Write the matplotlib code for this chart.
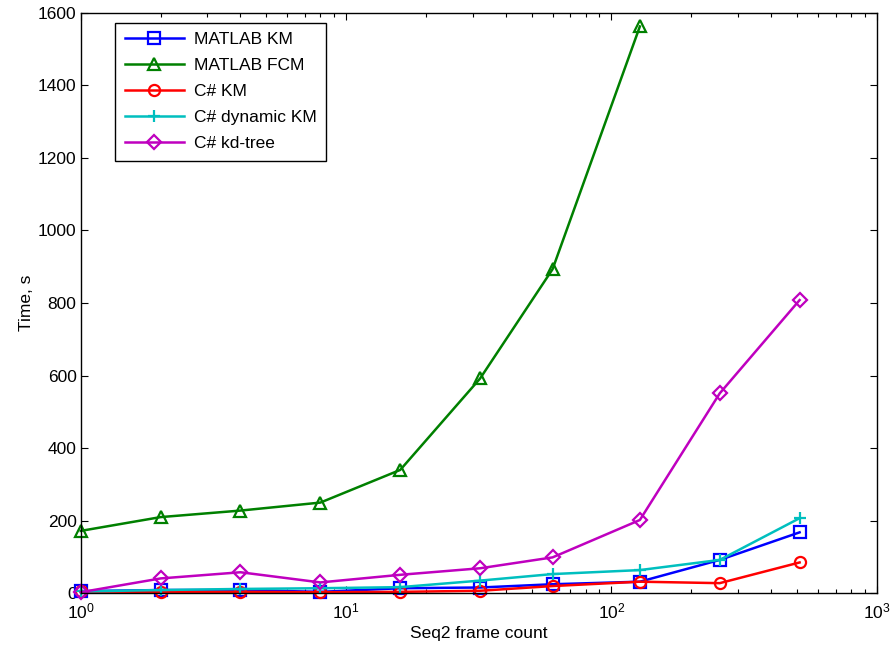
import numpy as np
import matplotlib
matplotlib.use("Agg")
import matplotlib.pyplot as plt
from matplotlib.ticker import LogLocator, NullFormatter

plt.rcParams['font.family'] = ['Liberation Sans', 'DejaVu Sans']
plt.rcParams['mathtext.default'] = 'regular'
plt.rcParams['font.size'] = 12.5

# frame counts (x) and timings in seconds
frames = [1, 2, 4, 8, 16, 32, 60, 128, 256, 512]
frames_fcm = [1, 2, 4, 8, 16, 32, 60, 128]
matlab_km = [6, 9, 9, 4, 14, 16, 25, 32, 92, 168]
matlab_fcm = [172, 210, 228, 250, 340, 592, 893, 1562]
cs_km = [5, 4, 4, 3, 4, 7, 20, 32, 28, 85]
cs_dyn_km = [5, 9, 12, 14, 17, 35, 53, 64, 92, 207]
cs_kdtree = [3, 41, 58, 30, 51, 69, 99, 202, 551, 808]

fig = plt.figure(figsize=(8.94, 6.54), dpi=100)
ax = fig.add_axes([0.0903, 0.0928, 0.8904, 0.8878])

style = dict(linewidth=1.8, markersize=8, markeredgewidth=1.6,
             markerfacecolor='none', clip_on=False)
ax.plot(frames, matlab_km, '-s', color=(0, 0, 1), label='MATLAB KM', **style)
ax.plot(frames_fcm, matlab_fcm, '-^', color=(0, 0.5, 0), label='MATLAB FCM', **style)
ax.plot(frames, cs_km, '-o', color=(1, 0, 0), label='C# KM', **style)
ax.plot(frames, cs_dyn_km, '-+', color=(0, 0.75, 0.75), label='C# dynamic KM',
        **{**style, 'markersize': 9})
ax.plot(frames, cs_kdtree, '-D', color=(0.75, 0, 0.75), label='C# kd-tree',
        **{**style, 'markersize': 7})

ax.set_xscale('log')
ax.set_xlim(1, 1000)
ax.set_ylim(0, 1600)
ax.set_yticks(np.arange(0, 1601, 200))
ax.xaxis.set_minor_locator(LogLocator(base=10, subs=np.arange(2, 10)))
ax.xaxis.set_minor_formatter(NullFormatter())

ax.tick_params(which='both', direction='in', top=True, right=True, width=0.8)
ax.tick_params(which='major', length=5)
ax.tick_params(which='minor', length=3)
ax.tick_params(axis='x', which='major', pad=6)
ax.tick_params(axis='y', which='major', pad=3)
for s in ax.spines.values():
    s.set_linewidth(1.0)

ax.set_xlabel('Seq2 frame count', labelpad=3)
ax.set_ylabel('Time, s', labelpad=3)

leg = ax.legend(loc='upper left', bbox_to_anchor=(0.0431, 0.9828),
                borderaxespad=0, fancybox=False, edgecolor='black',
                handlelength=3.4, labelspacing=0.62, borderpad=0.55,
                handletextpad=0.6, framealpha=1)
leg.get_frame().set_linewidth(1.0)

fig.savefig('out.png', dpi=100)
